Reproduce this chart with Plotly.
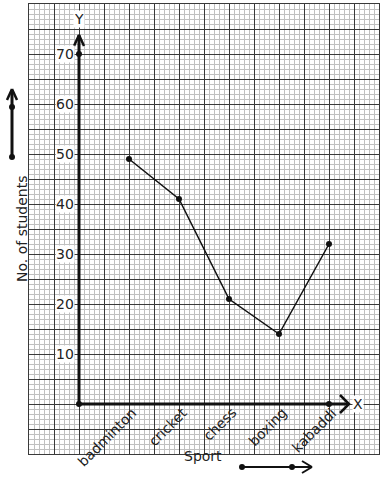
import plotly.graph_objects as go

categories = ["badminton", "cricket", "chess", "boxing", "kabaddi"]
students = [49, 41, 21, 14, 32]
y_ticks = [10, 20, 30, 40, 50, 60, 70]

W, H = 384, 480
ML, MR, MT, MB = 29, 5, 4, 26
XR = [-1, 6]
YR = [-10, 80]
FONT = "DejaVu Sans"
INK = "#111111"
FS = 14

xpos = list(range(1, len(categories) + 1))

def px_x(p):
    return (p - ML) / (W - ML - MR)

def px_y(p):
    return (H - MB - p) / (H - MT - MB)

fig = go.Figure()

# axes (thick)
fig.add_trace(go.Scatter(x=[0, 0], y=[0, 73.8], mode="lines",
                         line=dict(color=INK, width=3), hoverinfo="skip"))
fig.add_trace(go.Scatter(x=[0, 5.4], y=[0, 0], mode="lines",
                         line=dict(color=INK, width=3), hoverinfo="skip"))
# arrowheads
fig.add_trace(go.Scatter(x=[-0.1, 0, 0.1], y=[71.6, 73.8, 71.6], mode="lines",
                         line=dict(color=INK, width=2.5), hoverinfo="skip"))
fig.add_trace(go.Scatter(x=[5.22, 5.4, 5.22], y=[1.8, 0, -1.8], mode="lines",
                         line=dict(color=INK, width=2.5), hoverinfo="skip"))
# axis points
fig.add_trace(go.Scatter(x=[0, 0, 5], y=[0, 70, 0], mode="markers",
                         marker=dict(color=INK, size=6), hoverinfo="skip"))
# data line
fig.add_trace(go.Scatter(x=xpos, y=students, mode="lines+markers",
                         line=dict(color=INK, width=1.5),
                         marker=dict(color=INK, size=6)))

annotations = []
for v in y_ticks:
    annotations.append(dict(x=-0.08, y=v, xref="x", yref="y", text=str(v),
                            showarrow=False, xanchor="right", yanchor="middle",
                            font=dict(family=FONT, size=FS, color="#222"),
                            bgcolor="white", borderpad=0))
for xi, c in zip(xpos, categories):
    annotations.append(dict(x=xi + 0.27, y=0.5, xref="x", yref="y", text=c,
                            showarrow=False, xanchor="right", yanchor="top",
                            textangle=-45,
                            font=dict(family=FONT, size=FS, color="#222")))
annotations.append(dict(x=0, y=77, xref="x", yref="y", text="Y", showarrow=False,
                        font=dict(family=FONT, size=FS, color="#222"),
                        bgcolor="white", borderpad=0))
annotations.append(dict(x=5.58, y=0, xref="x", yref="y", text="X", showarrow=False,
                        font=dict(family=FONT, size=FS, color="#222"),
                        bgcolor="white", borderpad=0))
annotations.append(dict(x=px_x(203), y=px_y(466), xref="paper", yref="paper",
                        text="Sport", showarrow=False,
                        font=dict(family=FONT, size=FS, color="#222")))
annotations.append(dict(x=px_x(12), y=px_y(229), xref="paper", yref="paper",
                        text="No. of students", showarrow=False, textangle=-90,
                        font=dict(family=FONT, size=FS, color="#222")))

shapes = []
def seg(x0, y0, x1, y1, w):
    shapes.append(dict(type="line", xref="paper", yref="paper",
                       x0=px_x(x0), y0=px_y(y0), x1=px_x(x1), y1=px_y(y1),
                       line=dict(color=INK, width=w)))
def dot(x, y, r=3):
    shapes.append(dict(type="circle", xref="paper", yref="paper",
                       xsizemode="pixel", ysizemode="pixel",
                       xanchor=px_x(x), yanchor=px_y(y),
                       x0=-r, x1=r, y0=-r, y1=r,
                       fillcolor=INK, line=dict(color=INK, width=0)))

# left vertical arrow
seg(12, 157, 12, 90, 3)
seg(7, 100, 12, 89, 2.5)
seg(17, 100, 12, 89, 2.5)
dot(12, 157)
dot(12, 107)
# bottom horizontal arrow
seg(242, 467, 311, 467, 2)
seg(302, 461, 312, 467, 2)
seg(302, 473, 312, 467, 2)
dot(242, 467)
dot(292, 467)

fig.update_layout(
    width=W, height=H,
    margin=dict(l=ML, r=MR, t=MT, b=MB),
    paper_bgcolor="white", plot_bgcolor="white",
    showlegend=False,
    annotations=annotations,
    shapes=shapes,
    xaxis=dict(range=XR, dtick=0.5, tick0=0, showgrid=True, gridcolor="#3a3a3a",
               gridwidth=1.2, showticklabels=False, zeroline=False,
               minor=dict(dtick=0.1, tick0=0, showgrid=True, gridcolor="#c0c0c0", gridwidth=1),
               showline=True, mirror=True, linecolor="#3a3a3a", linewidth=1.2,
               fixedrange=True),
    yaxis=dict(range=YR, dtick=5, tick0=0, showgrid=True, gridcolor="#3a3a3a",
               gridwidth=1.2, showticklabels=False, zeroline=False,
               minor=dict(dtick=1, tick0=0, showgrid=True, gridcolor="#c0c0c0", gridwidth=1),
               showline=True, mirror=True, linecolor="#3a3a3a", linewidth=1.2,
               fixedrange=True),
)

fig.write_html("out.html", config={"displayModeBar": False},
               post_script="document.body.style.margin='0';document.body.style.overflow='hidden';")
